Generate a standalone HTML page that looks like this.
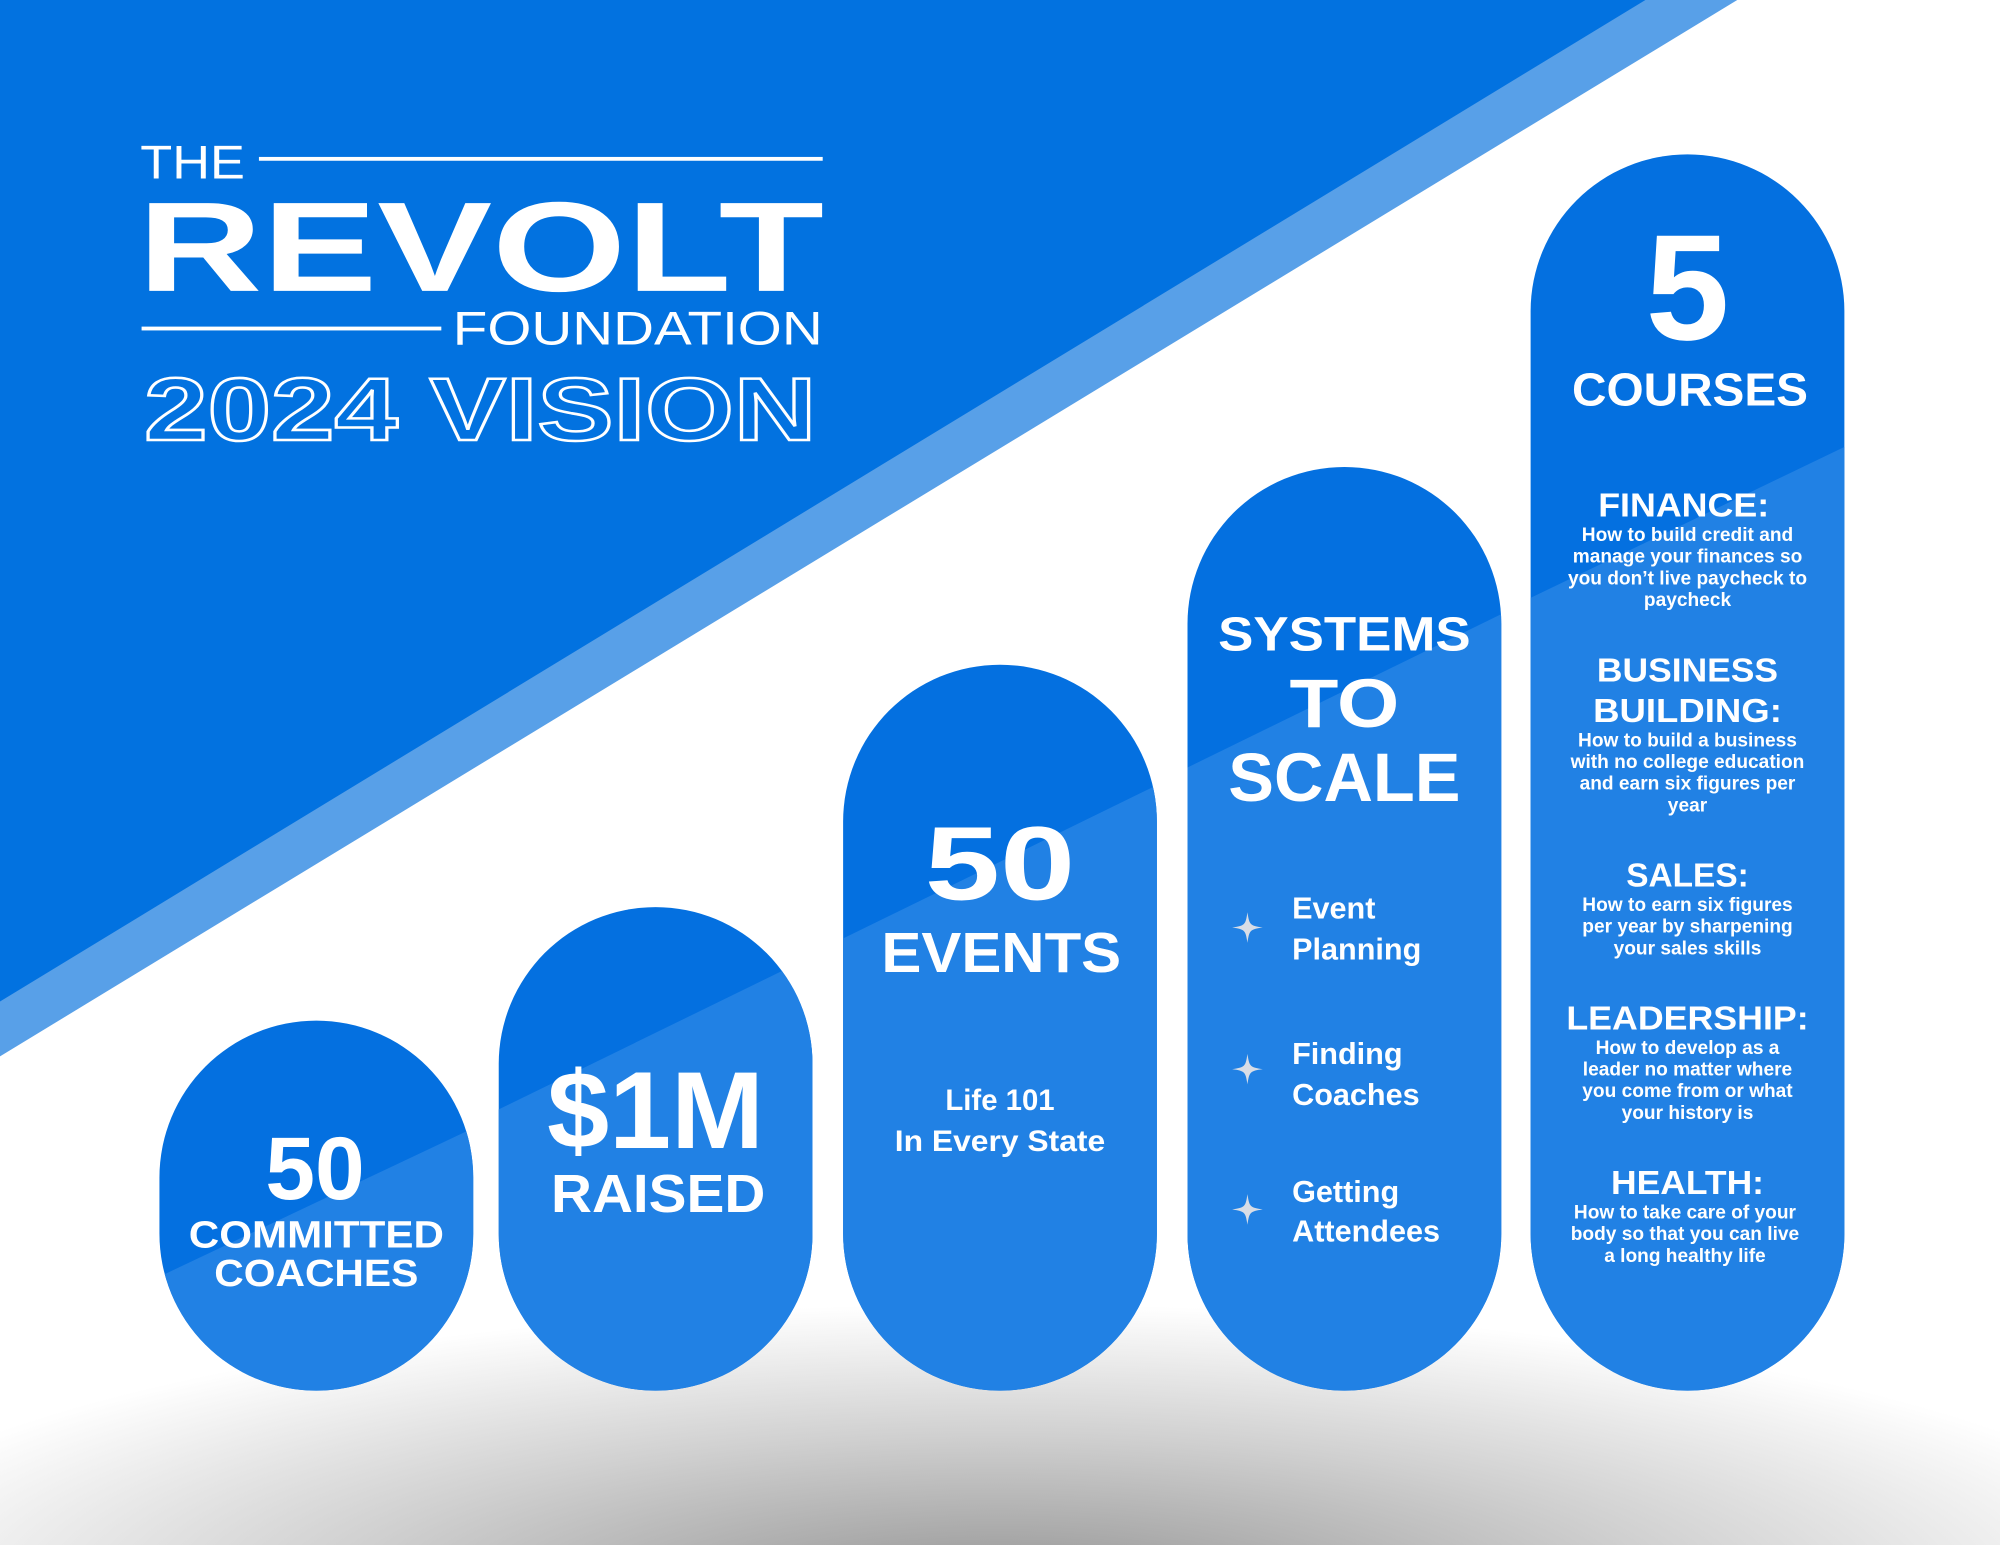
<!DOCTYPE html>
<html><head><meta charset="utf-8"><style>
html,body{margin:0;padding:0;background:#fff;}
svg{display:block;}
text{font-family:"Liberation Sans",Arial,sans-serif;fill:#fff;}
</style></head><body>
<svg width="2000" height="1545" viewBox="0 0 1568 1211" preserveAspectRatio="none" xmlns="http://www.w3.org/2000/svg">
<defs>
<radialGradient id="sh" cx="784" cy="1250" r="950" gradientUnits="userSpaceOnUse" gradientTransform="translate(0,1250) scale(1,0.24) translate(0,-1250)">
<stop offset="0" stop-color="#929292"/><stop offset="0.55" stop-color="#d0d0d0"/><stop offset="1" stop-color="#fff"/>
</radialGradient>
<clipPath id="p1"><rect x="125" y="800" width="246" height="290" rx="123"/></clipPath>
<clipPath id="p2"><rect x="391" y="711" width="246" height="379" rx="123"/></clipPath>
<clipPath id="p3"><rect x="661" y="521" width="246" height="569" rx="123"/></clipPath>
<clipPath id="p4"><rect x="931" y="366" width="246" height="724" rx="123"/></clipPath>
<clipPath id="p5"><rect x="1200" y="121" width="246" height="969" rx="123"/></clipPath>
<path id="star" d="M0,-12 C1.5,-2 2,-1.5 12,0 C2,1.5 1.5,2 0,12 C-1.5,2 -2,1.5 -12,0 C-2,-1.5 -1.5,-2 0,-12Z"/>
</defs>
<rect width="1568" height="1211" fill="#fff"/>
<rect x="0" y="1000" width="1568" height="211" fill="url(#sh)"/>
<polygon points="0,0 1362,0 0,828" fill="#58A0E8"/>
<polygon points="0,0 1290,0 0,785" fill="#0272E0"/>

<g clip-path="url(#p1)"><rect x="120" y="795" width="260" height="300" fill="#0470E0"/><polygon points="120,1003 380,880 380,1100 120,1100" fill="#2181E4"/></g>
<g clip-path="url(#p2)"><rect x="386" y="705" width="260" height="390" fill="#0470E0"/><polygon points="386,872 646,745 646,1100 386,1100" fill="#2181E4"/></g>
<g clip-path="url(#p3)"><rect x="656" y="515" width="260" height="580" fill="#0470E0"/><polygon points="656,738 916,611 916,1100 656,1100" fill="#2181E4"/></g>
<g clip-path="url(#p4)"><rect x="926" y="360" width="260" height="735" fill="#0470E0"/><polygon points="926,604 1186,477 1186,1100 926,1100" fill="#2181E4"/></g>
<g clip-path="url(#p5)"><rect x="1195" y="115" width="260" height="980" fill="#0470E0"/><polygon points="1195,471 1455,346 1455,1100 1195,1100" fill="#2181E4"/></g>

<text x="110" y="140" font-size="37" textLength="82" lengthAdjust="spacingAndGlyphs">THE</text>
<rect x="203" y="123" width="442" height="3" fill="#fff"/>
<text x="108" y="228" font-size="100" font-weight="bold" textLength="538" lengthAdjust="spacingAndGlyphs">REVOLT</text>
<rect x="111" y="256" width="235" height="3" fill="#fff"/>
<text x="355" y="270" font-size="37" textLength="290" lengthAdjust="spacingAndGlyphs">FOUNDATION</text>
<text x="113" y="345" font-size="70" font-weight="bold" textLength="527" lengthAdjust="spacingAndGlyphs" style="fill:none;stroke:#fff;stroke-width:2">2024 VISION</text>

<g text-anchor="middle" font-weight="bold">
<text x="247" y="940" font-size="70">50</text>
<text x="248" y="978" font-size="30" textLength="200" lengthAdjust="spacingAndGlyphs">COMMITTED</text>
<text x="248" y="1008" font-size="30" textLength="160" lengthAdjust="spacingAndGlyphs">COACHES</text>
<text x="514" y="900" font-size="86" textLength="170" lengthAdjust="spacingAndGlyphs">$1M</text>
<text x="516" y="950" font-size="42" textLength="168" lengthAdjust="spacingAndGlyphs">RAISED</text>
<text x="784" y="705" font-size="82" textLength="118" lengthAdjust="spacingAndGlyphs">50</text>
<text x="785" y="762" font-size="44" textLength="188" lengthAdjust="spacingAndGlyphs">EVENTS</text>
<text x="784" y="870" font-size="23">Life 101</text>
<text x="784" y="902" font-size="23" textLength="165" lengthAdjust="spacingAndGlyphs">In Every State</text>
<text x="1054" y="510" font-size="38" textLength="198" lengthAdjust="spacingAndGlyphs">SYSTEMS</text>
<text x="1054" y="570" font-size="54" textLength="86" lengthAdjust="spacingAndGlyphs">TO</text>
<text x="1054" y="628" font-size="54" textLength="182" lengthAdjust="spacingAndGlyphs">SCALE</text>
</g>
<g fill="#d8dde6">
<use href="#star" x="978" y="727"/><use href="#star" x="978" y="838"/><use href="#star" x="978" y="948"/>
</g>
<g font-size="24" font-weight="bold">
<text x="1013" y="720">Event</text><text x="1013" y="752">Planning</text>
<text x="1013" y="834">Finding</text><text x="1013" y="866">Coaches</text>
<text x="1013" y="942">Getting</text><text x="1013" y="973">Attendees</text>
</g>
<g text-anchor="middle" font-weight="bold">
<text x="1323" y="266" font-size="118">5</text>
<text x="1325" y="318" font-size="36" textLength="185" lengthAdjust="spacingAndGlyphs">COURSES</text>
<text x="1320" y="405" font-size="26" textLength="134" lengthAdjust="spacingAndGlyphs">FINANCE:</text>
<g font-size="15">
<text x="1323" y="424">How to build credit and</text>
<text x="1323" y="441">manage your finances so</text>
<text x="1323" y="458">you don’t live paycheck to</text>
<text x="1323" y="475">paycheck</text>
</g>
<text x="1323" y="534" font-size="26" textLength="142" lengthAdjust="spacingAndGlyphs">BUSINESS</text>
<text x="1323" y="566" font-size="26" textLength="148" lengthAdjust="spacingAndGlyphs">BUILDING:</text>
<g font-size="15">
<text x="1323" y="585">How to build a business</text>
<text x="1323" y="602">with no college education</text>
<text x="1323" y="619">and earn six figures per</text>
<text x="1323" y="636">year</text>
</g>
<text x="1323" y="695" font-size="26" textLength="96" lengthAdjust="spacingAndGlyphs">SALES:</text>
<g font-size="15">
<text x="1323" y="714">How to earn six figures</text>
<text x="1323" y="731">per year by sharpening</text>
<text x="1323" y="748">your sales skills</text>
</g>
<text x="1323" y="807" font-size="26" textLength="190" lengthAdjust="spacingAndGlyphs">LEADERSHIP:</text>
<g font-size="15">
<text x="1323" y="826">How to develop as a</text>
<text x="1323" y="843">leader no matter where</text>
<text x="1323" y="860">you come from or what</text>
<text x="1323" y="877">your history is</text>
</g>
<text x="1323" y="936" font-size="26" textLength="120" lengthAdjust="spacingAndGlyphs">HEALTH:</text>
<g font-size="15">
<text x="1321" y="955">How to take care of your</text>
<text x="1321" y="972">body so that you can live</text>
<text x="1321" y="989">a long healthy life</text>
</g>
</g>
</svg>
</body></html>
